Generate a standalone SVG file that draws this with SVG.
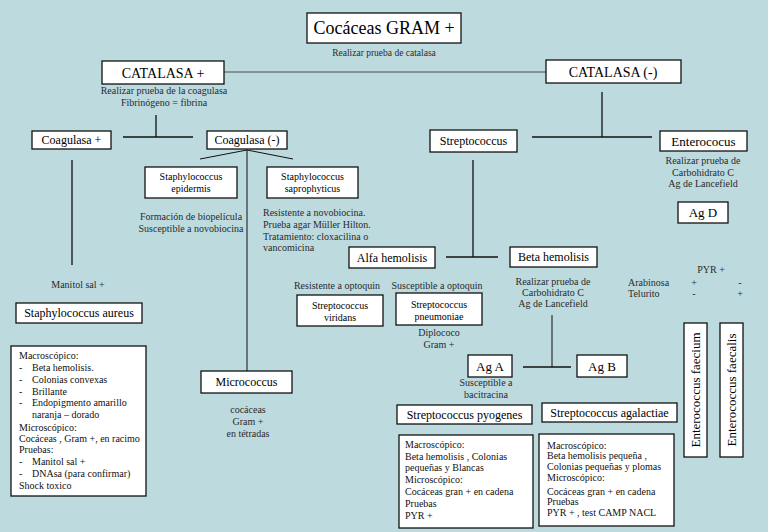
<svg xmlns="http://www.w3.org/2000/svg" width="768" height="532" viewBox="0 0 768 532">
<style>
text{font-family:"Liberation Serif","Times New Roman",serif;}
.box{fill:#fff;stroke:#111;stroke-width:1.3;}
.n{fill:#000;text-anchor:middle;font-size:12px;}
.s{fill:#000;text-anchor:middle;font-size:10px;}
.a{fill:#2a2a2a;font-size:10px;}
.ac{fill:#2a2a2a;font-size:10px;text-anchor:middle;}
.d{fill:#111;font-size:10px;}
.ln{stroke:#111;stroke-width:1.3;fill:none;}
</style>
<rect width="768" height="532" fill="#bddbdf"/>
<g id="connectors">
<line class="ln" x1="224" y1="72" x2="546" y2="72" style="stroke:#4a4a4a;stroke-width:1"/>
<line class="ln" x1="156" y1="115" x2="156" y2="137"/>
<line class="ln" x1="123" y1="137" x2="193" y2="137"/>
<line class="ln" x1="247" y1="150" x2="200" y2="159" style="stroke-width:1"/>
<line class="ln" x1="247" y1="150" x2="293" y2="159" style="stroke-width:1"/>
<line class="ln" x1="247" y1="150" x2="247" y2="371" style="stroke-width:1"/>
<line class="ln" x1="72" y1="160" x2="72" y2="265"/>
<line class="ln" x1="602" y1="92" x2="602" y2="137"/>
<line class="ln" x1="532" y1="137" x2="652" y2="137"/>
<line class="ln" x1="473" y1="160" x2="473" y2="257"/>
<line class="ln" x1="446" y1="257" x2="498" y2="257"/>
<line class="ln" x1="552" y1="315" x2="552" y2="367" style="stroke-width:1"/>
<line class="ln" x1="523" y1="367" x2="571" y2="367"/>
</g>
<g id="title">
<rect class="box" x="307" y="13" width="154" height="30"/>
<text class="n" x="384" y="34" style="font-size:18px">Cocáceas GRAM +</text>
<text class="ac" x="384" y="56" style="font-size:9.5px">Realizar prueba de catalasa</text>
</g>
<g id="catalasa-pos">
<rect class="box" x="102" y="61" width="122" height="23"/>
<text class="n" x="163" y="78" style="font-size:14px">CATALASA +</text>
<text class="ac" x="164" y="94">Realizar prueba de la coagulasa</text>
<text class="ac" x="164" y="106">Fibrinógeno = fibrina</text>
</g>
<g id="catalasa-neg">
<rect class="box" x="546" y="60" width="135" height="23"/>
<text class="n" x="613" y="77" style="font-size:14px">CATALASA  (-)</text>
</g>
<g id="coagulasa-pos">
<rect class="box" x="32" y="131" width="79" height="18"/>
<text class="n" x="71.5" y="144">Coagulasa +</text>
<text class="ac" x="78" y="288">Manitol sal +</text>
</g>
<g id="coagulasa-neg">
<rect class="box" x="207" y="131" width="80" height="18"/>
<text class="n" x="247" y="144">Coagulasa (-)</text>
</g>
<g id="staph-epidermis">
<rect class="box" x="145" y="167" width="92" height="31"/>
<text class="s" x="191" y="180">Staphylococcus</text>
<text class="s" x="191" y="192">epidermis</text>
<text class="ac" x="191" y="220">Formación de biopelícula</text>
<text class="ac" x="191" y="232">Susceptible a novobiocina</text>
</g>
<g id="staph-saprophyticus">
<rect class="box" x="267" y="167" width="91" height="31"/>
<text class="s" x="312.5" y="180">Staphylococcus</text>
<text class="s" x="312.5" y="192">saprophyticus</text>
<text class="a" x="263" y="216">Resistente a novobiocina.</text>
<text class="a" x="263" y="228">Prueba agar Müller Hilton.</text>
<text class="a" x="263" y="240">Tratamiento: cloxacilina o</text>
<text class="a" x="263" y="251">vancomicina</text>
</g>
<g id="staph-aureus">
<rect class="box" x="16" y="303" width="126" height="20"/>
<text class="n" x="79" y="317">Staphylococcus aureus</text>
</g>
<g id="aureus-detail">
<rect class="box" x="11" y="346" width="135" height="150"/>
<text class="d" x="19" y="359">Macroscópico:</text>
<text class="d" x="19" y="371">-</text><text class="d" x="32" y="371">Beta hemolisis.</text>
<text class="d" x="19" y="383">-</text><text class="d" x="32" y="383">Colonias convexas</text>
<text class="d" x="19" y="395">-</text><text class="d" x="32" y="395">Brillante</text>
<text class="d" x="19" y="406">-</text><text class="d" x="32" y="406">Endopigmento amarillo</text>
<text class="d" x="32" y="418">naranja – dorado</text>
<text class="d" x="19" y="431">Microscópico:</text>
<text class="d" x="19" y="442">Cocáceas , Gram +, en racimo</text>
<text class="d" x="19" y="453">Pruebas:</text>
<text class="d" x="19" y="465">-</text><text class="d" x="32" y="465">Manitol sal +</text>
<text class="d" x="19" y="477">-</text><text class="d" x="32" y="477">DNAsa (para confirmar)</text>
<text class="d" x="19" y="489">Shock toxico</text>
</g>
<g id="micrococcus">
<rect class="box" x="201" y="371" width="91" height="22"/>
<text class="n" x="246.5" y="386">Micrococcus</text>
<text class="ac" x="248" y="413">cocáceas</text>
<text class="ac" x="248" y="425">Gram +</text>
<text class="ac" x="248" y="437">en tétradas</text>
</g>
<g id="streptococcus">
<rect class="box" x="430" y="130" width="87" height="22"/>
<text class="n" x="473.5" y="145">Streptococcus</text>
</g>
<g id="enterococus">
<rect class="box" x="660" y="131" width="87" height="20"/>
<text class="n" x="703.5" y="146" style="font-size:13px">Enterococus</text>
<text class="ac" x="703" y="164">Realizar prueba de</text>
<text class="ac" x="703" y="176">Carbohidrato C</text>
<text class="ac" x="703" y="187">Ag de Lancefield</text>
</g>
<g id="ag-d">
<rect class="box" x="678" y="202" width="50" height="21"/>
<text class="n" x="703" y="217" style="font-size:13px">Ag D</text>
</g>
<g id="pyr-table">
<text class="ac" x="711" y="273">PYR +</text>
<text class="a" x="628" y="286">Arabinosa</text>
<text class="a" x="628" y="297">Telurito</text>
<text class="ac" x="694" y="286">+</text>
<text class="ac" x="740" y="286">-</text>
<text class="ac" x="694" y="297">-</text>
<text class="ac" x="740" y="297">+</text>
</g>
<g id="enterococcus-faecium">
<rect class="box" x="684" y="323" width="23" height="134"/>
<text class="n" transform="translate(700,390) rotate(-90)" x="0" y="0" style="font-size:13px">Enterococcus faecium</text>
</g>
<g id="enterococcus-faecalis">
<rect class="box" x="720" y="323" width="23" height="134"/>
<text class="n" transform="translate(736,390) rotate(-90)" x="0" y="0" style="font-size:13px">Enterococcus faecalis</text>
</g>
<g id="alfa-hemolisis">
<rect class="box" x="349" y="247" width="86" height="21"/>
<text class="n" x="392" y="262">Alfa hemolisis</text>
</g>
<g id="beta-hemolisis">
<rect class="box" x="510" y="247" width="87" height="20"/>
<text class="n" x="553.5" y="261">Beta hemolisis</text>
<text class="ac" x="553" y="285">Realizar prueba de</text>
<text class="ac" x="553" y="296">Carbohidrato C</text>
<text class="ac" x="553" y="307">Ag de Lancefield</text>
</g>
<g id="strep-viridans">
<text class="ac" x="337" y="289">Resistente a optoquin</text>
<rect class="box" x="297" y="295" width="86" height="31"/>
<text class="s" x="340" y="309">Streptococcus</text>
<text class="s" x="340" y="321">viridans</text>
</g>
<g id="strep-pneumoniae">
<text class="ac" x="437" y="289">Susceptible a optoquin</text>
<rect class="box" x="396" y="293" width="86" height="32"/>
<text class="s" x="439" y="308">Streptococcus</text>
<text class="s" x="439" y="320">pneumoniae</text>
<text class="ac" x="439" y="336">Diplococo</text>
<text class="ac" x="439" y="348">Gram +</text>
</g>
<g id="ag-a">
<rect class="box" x="468" y="355" width="44" height="22"/>
<text class="n" x="490" y="371" style="font-size:13px">Ag A</text>
<text class="ac" x="486" y="386">Susceptible a</text>
<text class="ac" x="486" y="398">bacitracina</text>
</g>
<g id="ag-b">
<rect class="box" x="577" y="355" width="50" height="22"/>
<text class="n" x="602" y="371" style="font-size:13px">Ag B</text>
</g>
<g id="strep-pyogenes">
<rect class="box" x="397" y="405" width="135" height="19"/>
<text class="n" x="464.5" y="419">Streptococcus pyogenes</text>
</g>
<g id="pyogenes-detail">
<rect class="box" x="399" y="435" width="134" height="93"/>
<text class="d" x="405" y="448">Macroscópico:</text>
<text class="d" x="405" y="460">Beta hemolisis , Colonias</text>
<text class="d" x="405" y="471">pequeñas y Blancas</text>
<text class="d" x="405" y="483">Microscópico:</text>
<text class="d" x="405" y="495">Cocáceas gran + en cadena</text>
<text class="d" x="405" y="507">Pruebas</text>
<text class="d" x="405" y="519">PYR +</text>
</g>
<g id="strep-agalactiae">
<rect class="box" x="542" y="403" width="135" height="19"/>
<text class="n" x="609.5" y="417">Streptococcus agalactiae</text>
</g>
<g id="agalactiae-detail">
<rect class="box" x="539" y="434" width="135" height="92"/>
<text class="d" x="547" y="449">Macroscópico:</text>
<text class="d" x="547" y="459">Beta hemolisis pequeña  ,</text>
<text class="d" x="547" y="470">Colonias pequeñas y plomas</text>
<text class="d" x="547" y="481">Microscópico:</text>
<text class="d" x="547" y="495">Cocáceas gran + en cadena</text>
<text class="d" x="547" y="505">Pruebas</text>
<text class="d" x="547" y="516">PYR + , test CAMP NACL</text>
</g>
</svg>
